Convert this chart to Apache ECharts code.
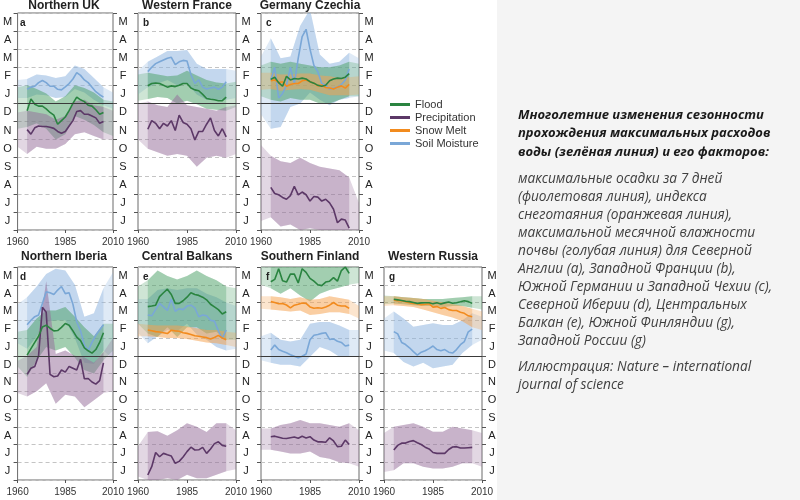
<!DOCTYPE html>
<html><head><meta charset="utf-8">
<script src="https://cdn.jsdelivr.net/npm/echarts@6/dist/echarts.min.js"></script>
<style>html,body{margin:0;padding:0;background:#fff}#c{width:800px;height:500px}</style>
</head><body><div id="c"></div>
<script>
// ---------- axes / categories ----------
const lineYears = [1965,1967,1969,1971,1973,1975,1977,1979,1981,1983,1985,1987,1989,1991,1993,1995,1997,1999,2001,2003,2005];
const bandYears = [1960,1965,1970,1975,1980,1985,1990,1995,2000,2005,2010];
const monthLabels = ['J','J','A','S','O','N','D','J','F','M','A','M']; // bottom -> top
const xTickLabels = [1960,1985,2010];
const legendNames = ['Flood','Precipitation','Snow Melt','Soil Moisture'];

// ---------- a: Northern UK ----------
const ukFlood = [6.6,7.25,6.95,6.85,6.85,6.7,6.5,6.35,5.85,6.05,6.25,6.6,7.0,7.35,7.2,7.1,6.9,6.85,6.65,6.4,6.5];
const ukFloodLo = [5.6,5.7,5.9,5.6,5.0,5.3,6.3,6.1,5.8,5.4,5.2];
const ukFloodHi = [7.9,8.0,7.8,7.55,7.1,7.4,8.0,7.85,7.6,7.2,7.1];
const ukPrecip = [5.55,5.3,5.65,5.75,5.72,5.72,5.68,5.62,5.45,5.35,5.45,5.75,6.05,6.55,6.6,6.4,6.4,6.3,6.2,5.9,6.0];
const ukPrecipLo = [4.6,4.2,4.6,4.5,4.5,4.75,5.3,5.4,5.2,5.0,5.0];
const ukPrecipHi = [6.5,6.6,6.5,6.4,6.1,6.3,7.1,7.2,6.9,6.8,6.6];
const ukSoil = [7.78,7.9,7.95,8.15,8.27,8.15,7.95,7.95,7.78,7.75,7.92,8.1,8.35,8.7,8.55,8.3,8.15,7.9,7.65,7.48,7.35];
const ukSoilLo = [7.3,7.3,7.5,7.45,7.3,7.35,7.8,7.6,7.2,6.9,6.7];
const ukSoilHi = [8.3,8.35,8.6,8.55,8.4,8.5,9.1,8.9,8.4,7.9,7.6];

// ---------- b: Western France ----------
const frFlood = [7.98,8.1,8.13,8.1,8.0,7.9,7.97,7.93,8.0,8.1,8.1,7.85,7.75,7.7,7.5,7.27,7.23,7.2,7.15,7.15,7.35];
const frFloodLo = [7.15,7.25,7.35,7.3,7.0,7.15,6.95,6.7,6.65,6.6,6.8];
const frFloodHi = [8.6,8.7,8.6,8.5,8.55,8.8,8.55,8.3,8.15,8.1,8.2];
const frPrecip = [5.57,6.05,5.9,5.6,5.9,5.75,6.05,5.5,6.35,5.95,5.85,5.6,4.98,5.45,5.45,5.85,6.2,5.5,5.2,5.6,5.15];
const frPrecipLo = [5.0,4.5,4.3,4.1,4.2,4.1,3.5,4.0,4.1,4.0,4.2];
const frPrecipHi = [7.0,7.1,6.9,6.8,7.5,6.9,6.8,6.7,6.6,6.8,6.9];
const frSoil = [8.76,9.0,9.2,9.3,9.4,9.5,9.55,9.15,9.3,9.38,9.35,8.6,8.1,8.3,7.9,7.8,7.85,7.9,7.78,7.9,8.2];
const frSoilLo = [7.5,7.9,8.1,8.3,8.0,8.1,7.5,7.2,7.2,7.2,7.3];
const frSoilHi = [8.8,9.3,9.6,9.9,9.9,9.95,9.2,8.9,8.9,8.9,8.8];

// ---------- c: Germany Czechia ----------
const deFlood = [8.33,8.45,8.15,7.95,8.5,8.3,8.38,8.35,8.4,8.35,8.2,8.12,8.0,7.95,8.0,8.25,8.35,8.4,8.38,8.45,8.65];
const deFloodLo = [7.4,7.2,7.1,7.3,7.2,7.2,7.0,7.0,7.2,7.4,7.4];
const deFloodHi = [9.1,9.3,9.2,9.3,9.2,9.1,9.0,9.0,9.1,9.3,9.2];
const dePrecip = [2.36,2.02,1.95,1.8,1.7,1.9,2.42,1.94,2.1,1.95,1.6,1.85,1.82,1.6,1.7,1.5,1.15,0.4,0.6,0.55,0.1];
const dePrecipLo = [0.5,0.7,0.2,0.3,0,0.1,0,0,0,0,0];
const dePrecipHi = [4.7,4.1,3.8,3.7,4.0,3.7,3.5,3.4,3.3,2.9,1.5];
const deSnow = [8.26,8.3,8.15,8.2,7.95,8.05,8.1,8.1,8.25,8.3,8.2,8.12,7.97,8.02,7.88,7.85,7.8,7.9,7.97,7.85,8.05];
const deSnowLo = [7.75,7.8,7.7,7.75,7.8,7.75,7.6,7.45,7.45,7.45,7.5];
const deSnowHi = [8.7,8.7,8.6,8.6,8.65,8.65,8.55,8.5,8.4,8.45,8.5];
const deSoil = [8.3,9.0,7.3,7.55,8.0,9.0,8.1,9.5,10.7,11.1,10.0,9.1,8.75,8.1,8.0,7.78,7.85,7.9,8.05,8.3,8.9];
const deSoilLo = [6.4,5.6,5.7,6.8,7.0,7.6,7.2,6.9,7.2,7.3,7.4];
const deSoilHi = [9.6,10.6,9.5,9.6,11.3,12.2,9.7,9.2,9.3,9.8,9.5];

// ---------- d: Northern Iberia ----------
const esFlood = [7.04,7.4,7.75,8.1,8.62,8.72,8.55,8.4,8.42,8.6,8.82,8.72,8.4,8.05,7.85,7.45,7.28,7.15,7.35,7.75,8.3];
const esFloodLo = [6.4,5.8,6.75,7.5,7.3,7.5,6.9,6.2,6.0,6.75,7.3];
const esFloodHi = [8.35,8.45,9.1,9.55,9.55,9.75,9.2,8.6,8.1,8.8,8.8];
const esPrecip = [5.95,6.3,6.4,7.0,9.73,9.45,5.95,5.82,5.86,6.2,6.08,6.4,6.3,6.2,6.8,5.7,5.72,5.52,5.4,5.6,6.6];
const esPrecipLo = [4.9,4.7,5.0,5.45,4.3,4.8,4.7,4.1,4.5,4.9,5.0];
const esPrecipHi = [6.7,7.0,7.5,11.2,7.1,7.3,7.0,6.9,6.6,7.2,8.0];
const esSoil = [8.75,9.0,9.2,9.3,9.95,10.6,10.55,10.45,10.7,10.9,10.5,10.55,9.9,8.9,8.4,7.6,7.3,7.75,8.15,8.45,8.75];
const esSoilLo = [7.7,7.4,8.1,8.9,9.0,9.0,8.0,6.6,6.55,7.3,6.8];
const esSoilHi = [9.9,10.3,10.9,11.6,11.9,11.8,11.0,9.2,9.4,10.8,11.7];

// ---------- e: Central Balkans ----------
const baFlood = [9.77,9.8,9.85,10.33,10.55,10.75,10.45,9.95,9.95,10.1,10.3,10.55,10.45,10.4,10.3,10.15,9.9,9.75,9.6,9.35,9.48];
const baFloodLo = [8.8,8.25,8.05,8.6,8.05,8.6,8.6,8.25,8.35,7.9,7.9];
const baFloodHi = [10.9,11.25,11.8,11.5,11.3,11.5,11.8,11.5,11.25,10.9,10.8];
const baPrecip = [0.28,0.75,1.55,1.31,1.5,1.42,1.35,0.94,1.05,1.3,1.6,1.85,1.69,1.7,1.84,1.5,1.75,2.05,2.15,1.95,1.9];
const baPrecipLo = [0.2,0,0,0.1,0,0.3,0.1,0.1,0.3,0.5,0.6];
const baPrecipHi = [1.9,2.7,2.75,2.5,2.8,3.2,3.0,2.7,3.2,3.2,2.8];
const baSnow = [8.45,8.41,8.36,8.34,8.3,8.25,8.44,8.4,8.38,8.3,8.26,8.2,8.13,8.1,8.06,8.02,7.94,8.03,8.15,8.0,7.9];
const baSnowLo = [8.1,8.1,8.05,8.0,8.0,7.95,7.85,7.75,7.7,7.6,7.5];
const baSnowHi = [8.8,8.75,8.7,8.7,8.7,8.65,8.55,8.45,8.45,8.35,8.3];
const baSoil = [9.3,9.25,9.6,9.95,9.75,9.55,10.2,9.5,9.65,9.6,9.8,9.85,9.7,9.2,9.3,9.25,9.0,8.95,8.4,7.98,8.45];
const baSoilLo = [8.3,7.7,8.1,8.45,8.4,8.8,8.2,7.9,7.5,7.3,7.4];
const baSoilHi = [10.2,10.2,10.7,10.8,10.7,10.8,10.8,10.5,10.3,10.0,9.8];

// ---------- f: Southern Finland ----------
const fiFlood = [11.17,11.3,11.9,11.22,11.15,11.6,11.6,11.1,11.9,11.7,11.36,11.2,11.0,10.95,11.15,11.2,11.4,11.2,11.8,12.0,11.64];
const fiFloodLo = [11.0,10.8,10.5,10.8,10.4,10.05,10.5,10.7,10.85,11.0,11.1];
const fiFloodHi = [12.3,12.5,12.5,12.5,12.5,12.5,12.5,12.5,12.5,12.5,12.3];
const fiPrecip = [2.44,2.47,2.41,2.35,2.34,2.38,2.42,2.35,2.46,2.37,2.44,2.25,2.15,2.15,2.13,2.38,2.2,1.88,1.9,2.25,2.0];
const fiPrecipLo = [1.7,1.7,1.6,1.5,1.5,1.6,1.3,1.2,1.0,0.95,0.75];
const fiPrecipHi = [2.9,2.9,3.1,3.2,3.38,3.2,3.2,3.1,3.0,3.2,2.8];
const fiSnow = [10.05,10.0,9.93,9.94,9.86,9.7,9.85,9.9,9.97,9.95,9.75,9.68,9.7,9.68,9.75,9.85,10.0,9.85,9.8,9.8,9.67];
const fiSnowLo = [9.65,9.6,9.55,9.5,9.55,9.3,9.35,9.45,9.45,9.35,9.1];
const fiSnowHi = [10.35,10.35,10.3,10.2,10.3,10.15,10.2,10.35,10.25,10.15,9.8];
const fiSoil = [7.32,7.6,7.35,7.25,7.17,7.06,6.97,6.88,6.97,7.1,7.9,8.15,8.2,8.26,8.3,7.92,7.95,7.82,7.75,7.55,7.6];
const fiSoilLo = [6.75,6.6,6.5,6.5,6.4,6.95,7.5,7.3,6.95,6.95,6.95];
const fiSoilHi = [8.1,8.3,7.9,7.8,7.9,8.8,8.9,8.9,8.7,8.45,8.45];

// ---------- g: Western Russia ----------
const ruFlood = [10.18,10.15,10.11,10.07,10.05,10.0,9.95,9.98,9.99,9.99,9.93,9.99,9.92,9.98,10.03,9.96,9.99,10.04,10.1,10.05,9.95];
const ruFloodLo = [9.9,9.95,9.9,9.85,9.8,9.8,9.75,9.8,9.8,9.7,9.6];
const ruFloodHi = [10.4,10.35,10.3,10.25,10.2,10.2,10.2,10.25,10.3,10.35,10.35];
const ruPrecip = [1.69,1.95,2.08,2.08,2.17,2.22,2.1,2.0,1.85,1.75,1.55,1.5,1.5,1.5,1.72,1.86,1.88,1.8,1.8,1.82,1.84];
const ruPrecipLo = [0.45,0.55,0.95,0.95,0.75,0.65,0.65,0.75,0.95,0.95,0.75];
const ruPrecipHi = [2.65,3.0,3.1,3.2,3.0,2.72,2.72,3.0,2.9,2.8,2.65];
const ruSnow = [10.14,10.1,10.1,10.05,9.99,9.95,9.93,9.88,9.9,9.93,9.74,9.77,9.67,9.72,9.6,9.55,9.55,9.45,9.39,9.25,9.2];
const ruSnowLo = [9.8,9.85,9.8,9.75,9.6,9.45,9.3,9.15,8.95,8.6,8.45];
const ruSnowHi = [10.35,10.35,10.3,10.25,10.2,10.1,10.0,9.9,9.8,9.65,9.5];
const ruSoil = [8.36,8.23,7.75,7.63,7.45,7.23,7.04,7.2,7.28,7.4,7.55,7.35,7.28,7.35,7.2,7.15,7.35,7.62,7.8,8.35,8.5];
const ruSoilLo = [7.3,7.15,6.65,6.4,6.6,6.3,6.4,6.5,7.15,7.6,7.9];
const ruSoilHi = [9.1,9.5,9.1,8.64,8.73,8.83,8.73,8.73,9.0,9.4,9.2];

// ---------- styling ----------
const VARS = {
  flood:  {name:'Flood',         line:'#2a8440', rgb:'80,160,105'},
  precip: {name:'Precipitation', line:'#5c3867', rgb:'150,110,155'},
  snow:   {name:'Snow Melt',     line:'#f28b1e', rgb:'245,160,80'},
  soil:   {name:'Soil Moisture', line:'#7aa7d7', rgb:'140,180,222'}
};
const bandOrder = ['soil','flood','snow','precip'];
const lineOrder = ['soil','precip','snow','flood'];

const panels = [
  {title:'Northern UK', letter:'a', col:0, row:0, vars:{flood:[ukFlood,ukFloodLo,ukFloodHi], precip:[ukPrecip,ukPrecipLo,ukPrecipHi], soil:[ukSoil,ukSoilLo,ukSoilHi]}},
  {title:'Western France', letter:'b', col:1, row:0, vars:{flood:[frFlood,frFloodLo,frFloodHi], precip:[frPrecip,frPrecipLo,frPrecipHi], soil:[frSoil,frSoilLo,frSoilHi]}},
  {title:'Germany Czechia', letter:'c', col:2, row:0, vars:{flood:[deFlood,deFloodLo,deFloodHi], precip:[dePrecip,dePrecipLo,dePrecipHi], snow:[deSnow,deSnowLo,deSnowHi], soil:[deSoil,deSoilLo,deSoilHi]}},
  {title:'Northern Iberia', letter:'d', col:0, row:1, vars:{flood:[esFlood,esFloodLo,esFloodHi], precip:[esPrecip,esPrecipLo,esPrecipHi], soil:[esSoil,esSoilLo,esSoilHi]}},
  {title:'Central Balkans', letter:'e', col:1, row:1, vars:{flood:[baFlood,baFloodLo,baFloodHi], precip:[baPrecip,baPrecipLo,baPrecipHi], snow:[baSnow,baSnowLo,baSnowHi], soil:[baSoil,baSoilLo,baSoilHi]}},
  {title:'Southern Finland', letter:'f', col:2, row:1, vars:{flood:[fiFlood,fiFloodLo,fiFloodHi], precip:[fiPrecip,fiPrecipLo,fiPrecipHi], snow:[fiSnow,fiSnowLo,fiSnowHi], soil:[fiSoil,fiSoilLo,fiSoilHi]}},
  {title:'Western Russia', letter:'g', col:3, row:1, vars:{flood:[ruFlood,ruFloodLo,ruFloodHi], precip:[ruPrecip,ruPrecipLo,ruPrecipHi], snow:[ruSnow,ruSnowLo,ruSnowHi], soil:[ruSoil,ruSoilLo,ruSoilHi]}}
];

const colLeft = [15,138,261,384];
const PW = 98;
const rowTop = [13,267];
const rowH = [217,213];
const FONT = '"Liberation Sans", Arial, sans-serif';

const grid = [], xAxis = [], yAxis = [], series = [], graphic = [];

// band polygon drawn through the axes of its grid
function bandSeries(gi, yi, yrs, lo, hi, fill) {
  return {
    type:'custom', name:'_band', xAxisIndex:gi, yAxisIndex:yi, silent:true, z:1,
    data:[[yrs[0], lo[0]]], encode:{x:0, y:1},
    renderItem:(params, api) => {
      const pts = [];
      for (let i=0;i<yrs.length;i++) pts.push(api.coord([yrs[i], hi[i]]));
      for (let i=yrs.length-1;i>=0;i--) pts.push(api.coord([yrs[i], lo[i]]));
      const cs = params.coordSys;
      return {type:'polygon', shape:{points:pts}, style:{fill:fill, stroke:null},
        clipPath:{type:'rect', shape:{x:cs.x, y:cs.y, width:cs.width, height:cs.height}}};
    }
  };
}

panels.forEach((p, gi) => {
  const left = colLeft[p.col], top = rowTop[p.row], h = rowH[p.row];
  grid.push({left:left, top:top, width:PW, height:h, show:true, borderColor:'#6a6a6a', borderWidth:1, backgroundColor:'transparent'});
  xAxis.push({type:'value', gridIndex:gi, min:xTickLabels[0], max:xTickLabels[2], interval:xTickLabels[1]-xTickLabels[0],
    axisLine:{show:false}, splitLine:{show:false},
    axisTick:{show:true, length:3, lineStyle:{color:'#555'}},
    axisLabel:{fontSize:10, color:'#333', margin:7, fontFamily:FONT, formatter:v=>String(v)}});
  yAxis.push({type:'value', gridIndex:gi, min:0, max:12, interval:1, position:'left',
    axisLine:{show:false}, axisTick:{show:false}, axisLabel:{show:false},
    splitLine:{show:true, lineStyle:{color:'#c4c4c4', type:[4,3], width:1}}});
  yAxis.push({type:'category', gridIndex:gi, position:'left', data:monthLabels.map((m,i)=>String(i)),
    axisLine:{show:false}, splitLine:{show:false},
    axisTick:{show:true, length:4, lineStyle:{color:'#555'}},
    axisLabel:{show:p.col===0, interval:0, margin:10, align:'center', fontSize:11, color:'#222', fontFamily:FONT,
      formatter:(v,i)=>monthLabels[i]}});
  yAxis.push({type:'category', gridIndex:gi, position:'right', data:monthLabels.map((m,i)=>String(i)),
    axisLine:{show:false}, splitLine:{show:false},
    axisTick:{show:true, length:4, lineStyle:{color:'#555'}},
    axisLabel:{show:true, interval:0, margin:10, align:'center', fontSize:11, color:'#222', fontFamily:FONT,
      formatter:(v,i)=>monthLabels[i]}});

  const yi = gi*3;
  bandOrder.forEach(k => {
    if (!p.vars[k]) return;
    const [mean, lo, hi] = p.vars[k];
    const c = VARS[k];
    series.push(bandSeries(gi, yi, bandYears, lo, hi, 'rgba('+c.rgb+',0.28)'));
    series.push(bandSeries(gi, yi, bandYears.slice(1,10), lo.slice(1,10), hi.slice(1,10), 'rgba('+c.rgb+',0.34)'));
  });
  lineOrder.forEach(k => {
    if (!p.vars[k]) return;
    const c = VARS[k];
    const s = {type:'line', name:c.name, xAxisIndex:gi, yAxisIndex:yi, symbol:'none', silent:true,
      color:c.line, itemStyle:{color:c.line}, lineStyle:{color:c.line, width:1.6},
      data:lineYears.map((y,i)=>[y, p.vars[k][0][i]]), z:3};
    if (k==='flood') {
      s.markLine = {silent:true, symbol:'none', label:{show:false}, animation:false,
        lineStyle:{color:'#3a3a3a', type:'solid', width:1}, data:[{yAxis:7}]};
    }
    series.push(s);
  });

  graphic.push({type:'text', x:left+PW/2, y:p.row===0?6:257, z:10,
    style:{text:p.title, font:'bold 12px '+FONT, fill:'#222', align:'center', verticalAlign:'middle'}});
  graphic.push({type:'text', x:left+5, y:top+10, z:10,
    style:{text:p.letter, font:'bold 10px '+FONT, fill:'#222', align:'left', verticalAlign:'middle'}});
});

const TFONT = '"Open Sans", "Noto Sans", sans-serif';
graphic.push({type:'rect', shape:{x:497, y:0, width:303, height:500}, style:{fill:'#f4f4f4'}, z:0});
graphic.push({type:'text', x:518, y:106, z:10, style:{
  text:'Многолетние изменения сезонности\nпрохождения максимальных расходов\nводы (зелёная линия) и его факторов:',
  font:'italic bold 13px '+TFONT, fill:'#1a1a1a', lineHeight:18.5, align:'left', verticalAlign:'top'}});
graphic.push({type:'text', x:518, y:170, z:10, style:{
  text:'максимальные осадки за 7 дней\n(фиолетовая линия), индекса\nснеготаяния (оранжевая линия),\nмаксимальной месячной влажности\nпочвы (голубая линия) для Северной\nАнглии (a), Западной Франции (b),\nЮжной Германии и Западной Чехии (c),\nСеверной Иберии (d), Центральных\nБалкан (e), Южной Финляндии (g),\nЗападной России (g)',
  font:'italic 13.7px '+TFONT, fill:'#404040', lineHeight:18, align:'left', verticalAlign:'top'}});
graphic.push({type:'text', x:518, y:358, z:10, style:{
  text:'Иллюстрация: Nature – international\njournal of science',
  font:'italic 13.7px '+TFONT, fill:'#404040', lineHeight:18, align:'left', verticalAlign:'top'}});

const chart = echarts.init(document.getElementById('c'));
chart.setOption({
  animation:false,
  backgroundColor:'#ffffff',
  tooltip:{show:false},
  legend:{data:legendNames.map(n=>({name:n, icon:'rect'})), orient:'vertical', left:385, top:94,
    itemWidth:20, itemHeight:3, itemGap:2, selectedMode:false,
    textStyle:{fontSize:11, color:'#333', fontFamily:FONT}},
  grid, xAxis, yAxis, series, graphic
});
</script></body></html>
